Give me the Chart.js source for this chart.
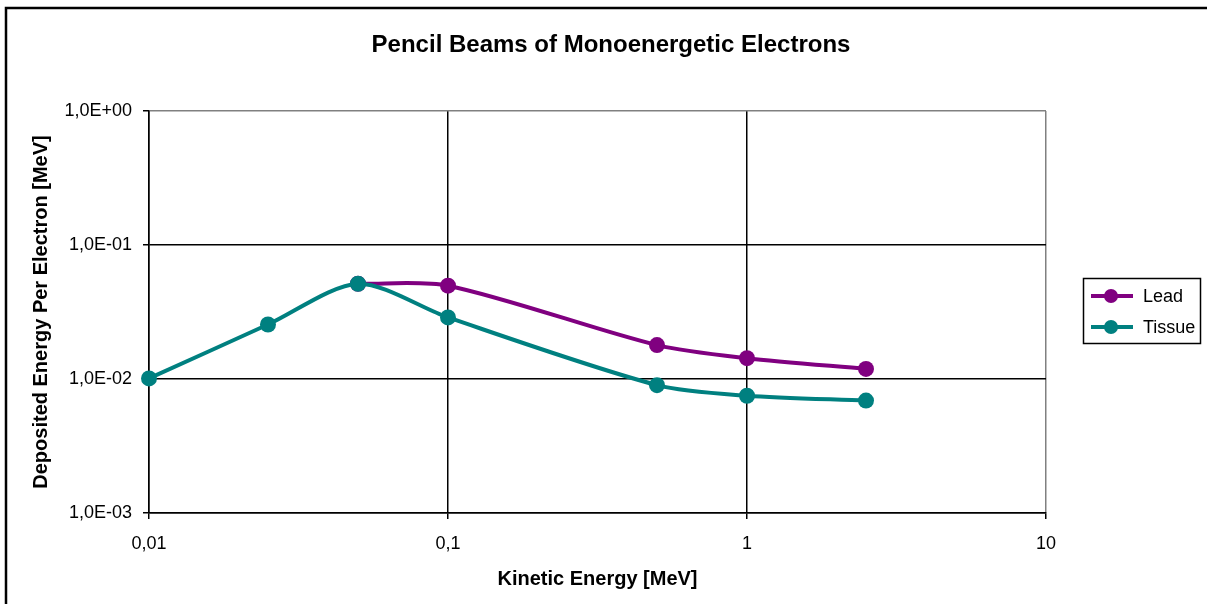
<!DOCTYPE html>
<html>
<head>
<meta charset="utf-8">
<script src="https://cdn.jsdelivr.net/npm/chart.js@4/dist/chart.umd.min.js"></script>
<style>
    html, body { margin: 0; padding: 0; background: #fff; }
    canvas { display: block; }
</style>
</head>
<body>
<canvas id="chart" width="1207" height="604"></canvas>
<script>
const chartTitle = "Pencil Beams of Monoenergetic Electrons";
const xTitle = "Kinetic Energy [MeV]";
const yTitle = "Deposited Energy Per Electron [MeV]";

const tissueEnergies = [0.01, 0.025, 0.05, 0.1, 0.5, 1, 2.5];
const tissueDeposited = [0.0101, 0.0255, 0.0514, 0.0288, 0.0090, 0.0075, 0.0069];
const leadEnergies = [0.05, 0.1, 0.5, 1, 2.5];
const leadDeposited = [0.0514, 0.0497, 0.0179, 0.0143, 0.0119];

const xTickValues = [0.01, 0.1, 1, 10];
const xTickLabels = ["0,01", "0,1", "1", "10"];
const yTickValues = [0.001, 0.01, 0.1, 1];
const yTickLabels = ["1,0E-03", "1,0E-02", "1,0E-01", "1,0E+00"];

const fontFamily = "'Liberation Sans', Arial, sans-serif";

function toPoints(xs, ys) {
    return xs.map((x, i) => ({ x: x, y: ys[i] }));
}

// frame, title and the boxed legend on the right
const decorPlugin = {
    id: "decor",
    afterDraw(chart) {
        const ctx = chart.ctx;
        ctx.save();
        ctx.strokeStyle = "#000";
        ctx.lineWidth = 2.5;
        ctx.beginPath();
        ctx.moveTo(6, 700);
        ctx.lineTo(6, 8);
        ctx.lineTo(1300, 8);
        ctx.stroke();

        ctx.fillStyle = "#000";
        ctx.font = "bold 24px " + fontFamily;
        ctx.textAlign = "center";
        ctx.textBaseline = "alphabetic";
        ctx.fillText(chartTitle, 611, 52);

        ctx.lineWidth = 1.5;
        ctx.strokeRect(1083.5, 278.5, 117, 65);
        ctx.font = "18px " + fontFamily;
        ctx.textAlign = "left";
        ctx.textBaseline = "middle";
        chart.data.datasets.forEach((ds, i) => {
            const y = 296 + i * 31;
            ctx.strokeStyle = ds.borderColor;
            ctx.lineWidth = 4;
            ctx.beginPath();
            ctx.moveTo(1091, y);
            ctx.lineTo(1133, y);
            ctx.stroke();
            ctx.fillStyle = ds.backgroundColor;
            ctx.beginPath();
            ctx.arc(1111, y, 7, 0, Math.PI * 2);
            ctx.fill();
            ctx.fillStyle = "#000";
            ctx.fillText(ds.label, 1143, y + 1);
        });
        ctx.restore();
    }
};

const ctx = document.getElementById("chart").getContext("2d");
new Chart(ctx, {
    type: "line",
    data: {
        datasets: [
            {
                label: "Lead",
                data: toPoints(leadEnergies, leadDeposited),
                borderColor: "#800080",
                backgroundColor: "#800080",
                order: 1
            },
            {
                label: "Tissue",
                data: toPoints(tissueEnergies, tissueDeposited),
                borderColor: "#008080",
                backgroundColor: "#008080",
                order: 0
            }
        ]
    },
    options: {
        responsive: false,
        animation: false,
        clip: false,
        layout: { padding: { left: 6, top: 111, right: 161, bottom: 0 } },
        elements: {
            line: { borderWidth: 4, tension: 0.28 },
            point: { radius: 8, borderWidth: 0, hoverRadius: 8 }
        },
        plugins: {
            legend: { display: false },
            title: { display: false },
            tooltip: { enabled: false }
        },
        scales: {
            x: {
                type: "logarithmic",
                min: 0.01,
                max: 10,
                afterBuildTicks: s => { s.ticks = xTickValues.map(v => ({ value: v })); },
                afterFit: s => { s.height = 91; },
                ticks: {
                    autoSkip: false,
                    maxRotation: 0,
                    padding: 14,
                    color: "#000",
                    font: { family: fontFamily, size: 18 },
                    callback: (v, i) => xTickLabels[i]
                },
                grid: {
                    color: c => (c.tick && c.tick.value === 10 ? "#808080" : "#000"),
                    tickColor: "#000",
                    tickLength: 6,
                    lineWidth: 1.5
                },
                border: { color: "#000", width: 1.5 },
                title: {
                    display: true,
                    text: xTitle,
                    color: "#000",
                    padding: { top: 0, bottom: 13 },
                    font: { family: fontFamily, size: 20, weight: "bold" }
                }
            },
            y: {
                type: "logarithmic",
                min: 0.001,
                max: 1,
                afterBuildTicks: s => { s.ticks = yTickValues.map(v => ({ value: v })); },
                afterFit: s => { s.width = 143; },
                ticks: {
                    autoSkip: false,
                    padding: 11,
                    color: "#000",
                    font: { family: fontFamily, size: 18 },
                    callback: (v, i) => yTickLabels[i]
                },
                grid: {
                    color: c => (c.tick && c.tick.value === 1 ? "#808080" : "#000"),
                    tickColor: "#000",
                    tickLength: 6,
                    lineWidth: 1.5
                },
                border: { color: "#000", width: 1.5 },
                title: {
                    display: true,
                    text: yTitle,
                    color: "#000",
                    padding: { top: 23, bottom: 0 },
                    font: { family: fontFamily, size: 20, weight: "bold" }
                }
            }
        }
    },
    plugins: [decorPlugin]
});
</script>
</body>
</html>
